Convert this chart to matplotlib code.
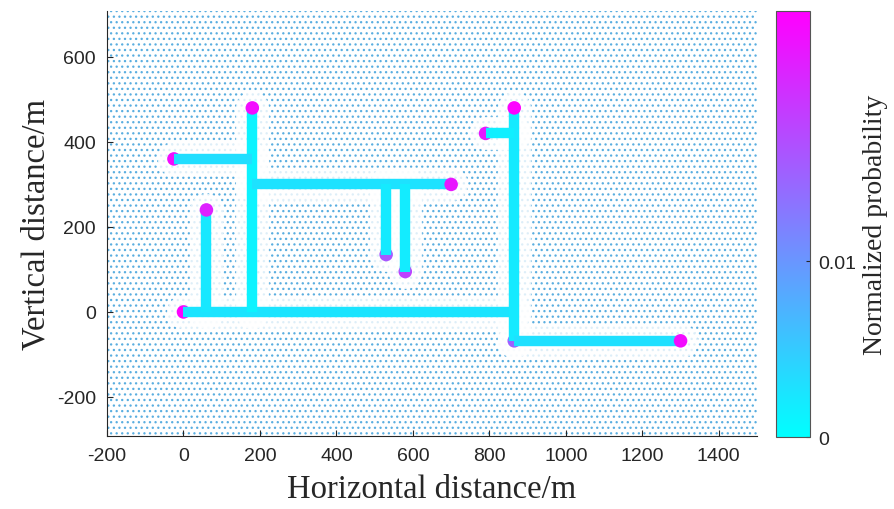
import matplotlib
matplotlib.use("Agg")
import matplotlib.pyplot as plt
from matplotlib.collections import LineCollection
from matplotlib.colors import Normalize
from matplotlib.patches import Rectangle
import numpy as np

# pipe segments (x0, y0) -> (x1, y1) and their normalized probability
seg_x0 = [0, 60, 180, -25, 180, 530, 580, 865, 865, 790]
seg_y0 = [0, 0, 0, 360, 300, 300, 300, -68, -68, 420]
seg_x1 = [865, 60, 180, 180, 700, 530, 580, 865, 1300, 865]
seg_y1 = [0, 240, 480, 360, 300, 135, 95, 480, -68, 420]
seg_p = [0.0026, 0.0022, 0.0012, 0.0032, 0.0028, 0.0020, 0.0018, 0.0020, 0.0030, 0.0016]

# dead-end nodes
end_x = [0, 60, 180, -25, 700, 530, 580, 865, 790, 1300, 865]
end_y = [0, 240, 480, 360, 300, 135, 95, 480, 420, -68, -68]
end_p = [0.024, 0.021, 0.023, 0.023, 0.022, 0.016, 0.018, 0.024, 0.022, 0.023, 0.015]
end_top = [0, 1, 1, 0, 1, 0, 0, 1, 0, 1, 0]

vmax = 0.0242
cmap = plt.get_cmap("cool")
norm = Normalize(0, vmax)

plt.rcParams["hatch.linewidth"] = 0.9
plt.rcParams["axes.unicode_minus"] = False

fig = plt.figure(figsize=(8.94, 5.10), dpi=100)
ax = fig.add_axes([0.1197, 0.143, 0.7271, 0.8335])
cax = fig.add_axes([0.868, 0.141, 0.038, 0.835])

ax.set_xlim(-200, 1500)
ax.set_ylim(-292, 708)

# background sample cloud as a dotted texture
ax.add_patch(Rectangle((0, 0), 1, 1, transform=ax.transAxes, facecolor="none",
                       edgecolor="#5aaee0", linewidth=0, hatch="...", zorder=0))

segs = [[(a, b), (c, d)] for a, b, c, d in zip(seg_x0, seg_y0, seg_x1, seg_y1)]

# faded halo round the pipes
halo = LineCollection(segs, colors="white", linewidths=24, alpha=0.8,
                      capstyle="round", zorder=1)
ax.add_collection(halo)

ex = np.array(end_x)
ey = np.array(end_y)
ep = np.array(end_p)
top = np.array(end_top) == 1

ax.scatter(ex[~top], ey[~top], c=ep[~top], cmap=cmap, norm=norm, s=95,
           linewidths=0, zorder=2)

pipes = LineCollection(segs, array=np.array(seg_p), cmap=cmap, norm=norm,
                       linewidths=7.5, capstyle="butt", zorder=3)
ax.add_collection(pipes)

ax.scatter(ex[top], ey[top], c=ep[top], cmap=cmap, norm=norm, s=95,
           linewidths=0, zorder=4)

ax.set_xticks(range(-200, 1401, 200))
ax.set_yticks(range(-200, 601, 200))
for s in ["top", "right"]:
    ax.spines[s].set_visible(False)
for s in ["left", "bottom"]:
    ax.spines[s].set_color("#262626")
    ax.spines[s].set_linewidth(0.8)
ax.tick_params(direction="in", length=4, width=0.8, colors="#262626",
               labelsize=14, pad=8)
for lab in ax.get_xticklabels() + ax.get_yticklabels():
    lab.set_family("Liberation Sans")

ax.set_xlabel("Horizontal distance/m", family="Liberation Serif", fontsize=23.5,
              color="#262626", labelpad=7)
ax.set_ylabel("Vertical distance/m", family="Liberation Serif", fontsize=23.5,
              color="#262626", labelpad=4)

sm = plt.cm.ScalarMappable(norm=norm, cmap=cmap)
cb = fig.colorbar(sm, cax=cax, ticks=[0, 0.01])
cb.ax.set_yticklabels(["0", "0.01"])
cb.outline.set_edgecolor("#555555")
cb.outline.set_linewidth(0.8)
cax.tick_params(direction="in", length=3, width=0.8, colors="#262626",
                labelsize=14, pad=6)
for lab in cax.get_yticklabels():
    lab.set_family("Liberation Sans")
cb.set_label("Normalized probability", family="Liberation Serif", fontsize=20,
             color="#262626", labelpad=5)

fig.savefig("out.png", dpi=100)
